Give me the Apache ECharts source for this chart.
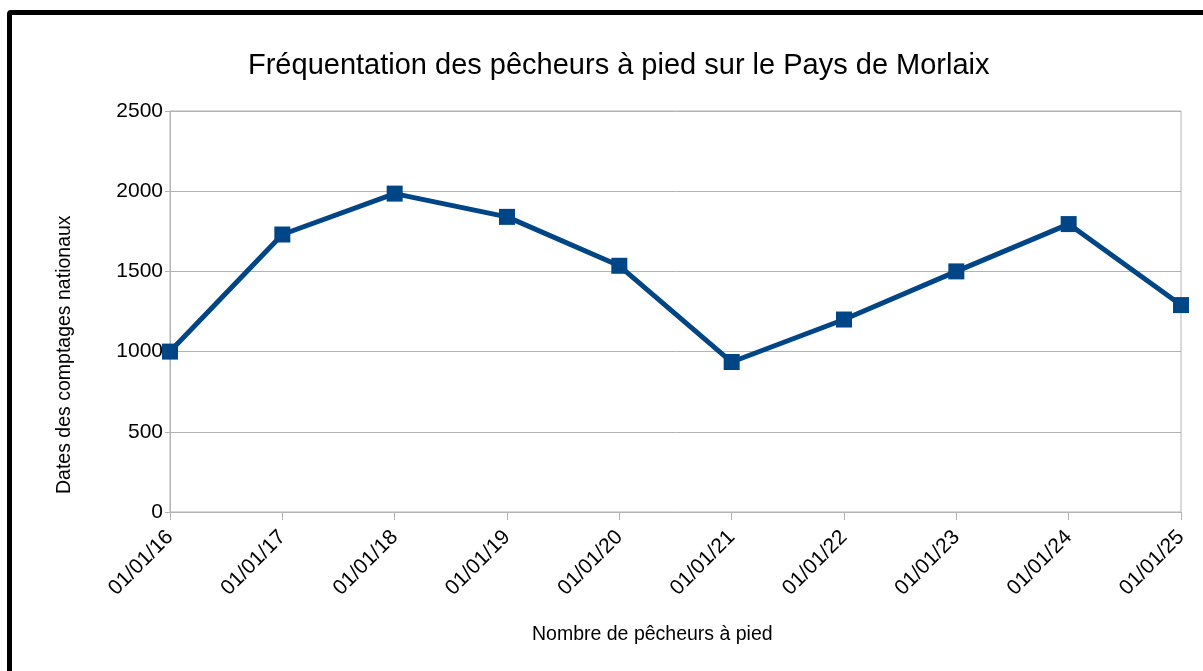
<!DOCTYPE html>
<html>
<head>
<meta charset="utf-8">
<script src="https://cdn.jsdelivr.net/npm/echarts@6/dist/echarts.min.js"></script>
<style>
  html, body { margin:0; padding:0; background:#fff; overflow:hidden; }
  #frame { position:absolute; left:7px; top:10px; width:1300px; height:800px; border:5px solid #000; border-radius:4px; box-sizing:border-box; }
  #chart { position:absolute; left:0; top:0; width:1203px; height:671px; }
</style>
</head>
<body>
<div id="frame"></div>
<div id="chart"></div>
<script>
const categories = ['01/01/16','01/01/17','01/01/18','01/01/19','01/01/20','01/01/21','01/01/22','01/01/23','01/01/24','01/01/25'];
const values = [1000, 1730, 1985, 1840, 1535, 935, 1200, 1500, 1795, 1290];
const titleText = 'Fréquentation des pêcheurs à pied sur le Pays de Morlaix';
const xName = 'Nombre de pêcheurs à pied';
const yName = 'Dates des comptages nationaux';

const chart = echarts.init(document.getElementById('chart'));
const font = '"Liberation Sans", Arial, sans-serif';
chart.setOption({
  animation: false,
  backgroundColor: 'transparent',
  title: {
    text: titleText,
    left: 243, top: 46,
    textStyle: { fontFamily: font, fontSize: 29, fontWeight: 'normal', color: '#000' }
  },
  grid: { left: 170, right: 22, top: 111, bottom: 159, show: true, borderColor: '#b3b3b3', borderWidth: 1 },
  xAxis: {
    type: 'category',
    data: categories,
    boundaryGap: false,
    axisLine: { lineStyle: { color: '#b3b3b3', width: 1 } },
    axisTick: { show: true, length: 8, lineStyle: { color: '#b3b3b3' } },
    axisLabel: { rotate: 45, margin: 22, fontFamily: font, fontSize: 21, color: '#000' },
    splitLine: { show: false }
  },
  yAxis: {
    type: 'value',
    min: 0, max: 2500, interval: 500,
    axisLine: { show: true, lineStyle: { color: '#b3b3b3', width: 1 } },
    axisTick: { show: true, length: 5, lineStyle: { color: '#b3b3b3' } },
    axisLabel: { margin: 7, fontFamily: font, fontSize: 21, color: '#000', formatter: v => String(v) },
    splitLine: { show: true, lineStyle: { color: '#b3b3b3', width: 1 } }
  },
  graphic: [
    { type: 'text', left: 532, top: 625, style: { text: xName, font: '19.5px ' + font, fill: '#000' } },
    { type: 'text', x: 55, y: 494, rotation: Math.PI / 2, style: { text: yName, font: '19.5px ' + font, fill: '#000', textAlign: 'left', textVerticalAlign: 'top' } }
  ],
  series: [{
    type: 'line',
    data: values,
    symbol: 'rect',
    symbolSize: 16,
    lineStyle: { color: '#004586', width: 5 },
    itemStyle: { color: '#004586' },
    clip: false
  }]
});
</script>
</body>
</html>
